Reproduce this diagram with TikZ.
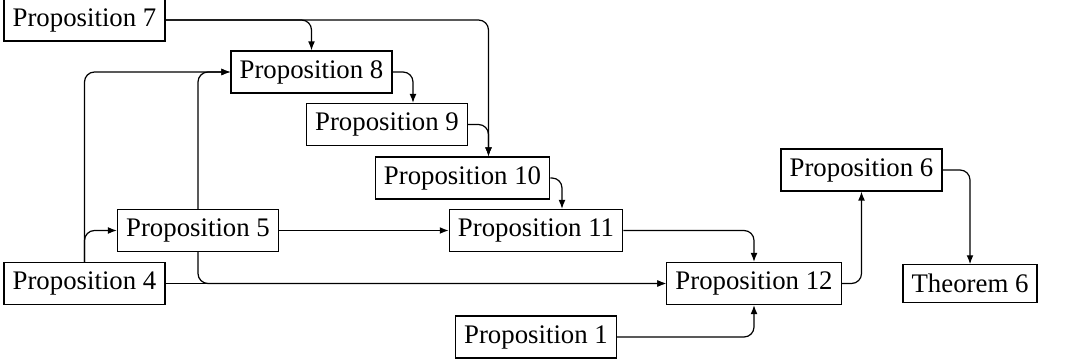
\documentclass[tikz,border=0pt]{standalone}
\usepackage{fontspec}
\setmainfont{Liberation Serif}
\usetikzlibrary{arrows.meta}
\begin{document}
\begin{tikzpicture}[x=0.5pt,y=-0.5pt,
  prop/.style={draw, line width=0.6pt, inner xsep=4.3pt, inner ysep=4.6pt,
    font=\fontsize{13.4}{16}\selectfont},
  link/.style={line width=0.6pt, rounded corners=5pt,
    -{Latex[length=4.5pt,width=3.4pt]}}]
\useasboundingbox (0,0) rectangle (1068,362);

% statements
\node[prop] (p7)  at (84.5,20)   {Proposition 7};
\node[prop] (p8)  at (311.5,72)  {Proposition 8};
\node[prop] (p9)  at (387,124.5) {Proposition 9};
\node[prop] (p10) at (462.5,178) {Proposition 10};
\node[prop] (p5)  at (198,230.5) {Proposition 5};
\node[prop] (p11) at (536,230.5) {Proposition 11};
\node[prop] (p4)  at (84.5,283.5) {Proposition 4};
\node[prop] (p12) at (754,283.5) {Proposition 12};
\node[prop] (p1)  at (536,337)   {Proposition 1};
\node[prop] (p6)  at (861.5,170) {Proposition 6};
\node[prop] (t6)  at (970,283.5) {Theorem 6};

% entry points on the upper chain
\coordinate (p9in)  at ([xshift=13pt]p9.north);
\coordinate (p10in) at ([xshift=13pt]p10.north);
\coordinate (p11in) at ([xshift=13pt]p11.north);

% dependencies
\draw[link] (p7.east) -| (p8.north);
\draw[link] (p7.east) -| (p10in);
\draw[link] (p8.east) -| (p9in);
\draw[link] (p9.east) -| (p10in);
\draw[link] (p10.east) -| (p11in);
\draw[link] (p4.north) |- (p8.west);
\draw[link] (p5.north) |- (p8.west);
\draw[link] (p4.north) |- (p5.west);
\draw[link] (p5.east) -- (p11.west);
\draw[link] (p5.south) |- (p12.west);
\draw[link] (p4.east) -- (p12.west);
\draw[link] (p11.east) -| (p12.north);
\draw[link] (p1.east) -| (p12.south);
\draw[link] (p12.east) -| (p6.south);
\draw[link] (p6.east) -| (t6.north);
\end{tikzpicture}
\end{document}
